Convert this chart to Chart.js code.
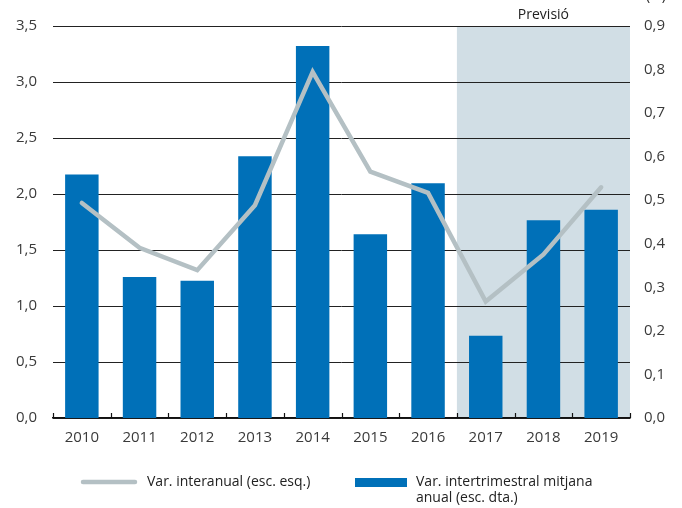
<!DOCTYPE html>
<html lang="ca">
<head>
    <meta charset="UTF-8">
    <title>Previsió</title>
    <script src="https://cdn.jsdelivr.net/npm/chart.js@4.4.1/dist/chart.umd.min.js"></script>
    <style>
        body {
            margin: 0;
            background: white;
        }
        .wrap {
            width: 682px;
            height: 508px;
            position: relative;
        }
    </style>
</head>
<body>
    <div class="wrap">
        <canvas id="myChart" width="682" height="508"></canvas>
    </div>

<script>
const years = ["2010", "2011", "2012", "2013", "2014", "2015", "2016", "2017", "2018", "2019"];
// var. interanual, left axis
const interanual = [1.92, 1.52, 1.32, 1.90, 3.09, 2.20, 2.01, 1.04, 1.46, 2.06];
// var. intertrimestral mitjana anual, right axis
const intertrimestral = [0.559, 0.324, 0.315, 0.601, 0.854, 0.422, 0.539, 0.189, 0.454, 0.478];
const forecastFrom = "2017";

const FONT = "'Open Sans', sans-serif";
const TXT = "#3a3a3a";

// shaded forecast area + labels, drawn before gridlines
const forecastPlugin = {
  id: "forecast",
  beforeDraw(chart) {
    const ctx = chart.ctx;
    const x = chart.scales.x;
    const area = chart.chartArea;
    const i = years.indexOf(forecastFrom);
    const step = x.getPixelForValue(1) - x.getPixelForValue(0);
    const left = x.getPixelForValue(i) - step / 2;
    ctx.save();
    ctx.fillStyle = "#d1dee5";
    ctx.fillRect(left, area.top, area.right - left, area.bottom - area.top);
    ctx.fillStyle = "#222";
    ctx.font = "14px " + FONT;
    ctx.textAlign = "center";
    ctx.textBaseline = "alphabetic";
    ctx.fillText("Previsió", (left + area.right) / 2, 19);
    ctx.fillText("(%)", 656, 0);
    ctx.restore();
  },
  afterDraw(chart) {
    const ctx = chart.ctx;
    const x = chart.scales.x;
    const area = chart.chartArea;
    const step = x.getPixelForValue(1) - x.getPixelForValue(0);
    ctx.save();
    // small ticks between categories
    ctx.strokeStyle = "#111";
    ctx.lineWidth = 1.2;
    for (let k = 0; k <= years.length; k++) {
      const px = Math.round(x.getPixelForValue(0) - step / 2 + k * step) + 0.5;
      ctx.beginPath();
      ctx.moveTo(px, area.bottom);
      ctx.lineTo(px, area.bottom - 5);
      ctx.stroke();
    }
    // legend
    ctx.strokeStyle = "#b4c0c4";
    ctx.lineWidth = 4.5;
    ctx.lineCap = "round";
    ctx.beginPath();
    ctx.moveTo(83, 482);
    ctx.lineTo(135, 482);
    ctx.stroke();
    ctx.fillStyle = "#0070b8";
    ctx.fillRect(355, 478, 52, 9);
    ctx.fillStyle = "#222";
    ctx.font = "14px " + FONT;
    ctx.textAlign = "left";
    ctx.textBaseline = "middle";
    ctx.fillText("Var. interanual (esc. esq.)", 147, 482);
    ctx.fillText("Var. intertrimestral mitjana", 416, 482);
    ctx.fillText("anual (esc. dta.)", 416, 498);
    ctx.restore();
  }
};

new Chart("myChart", {
  type: "bar",
  data: {
    labels: years,
    datasets: [{
      type: "line",
      data: interanual,
      yAxisID: "y",
      borderColor: "#b4c0c4",
      borderWidth: 4.5,
      borderCapStyle: "round",
      borderJoinStyle: "miter",
      pointRadius: 0,
      tension: 0,
      fill: false,
      order: 0
    }, {
      type: "bar",
      data: intertrimestral,
      yAxisID: "y2",
      backgroundColor: "#0070b8",
      borderWidth: 0,
      categoryPercentage: 1,
      barPercentage: 0.58,
      order: 1
    }]
  },
  plugins: [forecastPlugin],
  options: {
    responsive: false,
    animation: false,
    layout: { padding: { top: 26, bottom: 60, left: 0, right: 0 } },
    plugins: {
      legend: { display: false },
      tooltip: { enabled: false }
    },
    scales: {
      x: {
        grid: { display: false, drawTicks: false },
        border: { display: true, color: "#111", width: 1.5 },
        ticks: { color: TXT, font: { family: FONT, size: 15 }, padding: 11, maxRotation: 0 },
        afterFit(s) { s.height = 30; }
      },
      y: {
        position: "left",
        min: 0,
        max: 3.5,
        grid: { color: "#222", lineWidth: 1, drawTicks: false },
        border: { display: false },
        ticks: {
          stepSize: 0.5,
          color: TXT,
          padding: 16,
          font: { family: FONT, size: 15 },
          callback: v => v.toFixed(1).replace(".", ",")
        },
        afterFit(s) { s.width = 53; }
      },
      y2: {
        position: "right",
        min: 0,
        max: 0.9,
        grid: { display: false, drawTicks: false },
        border: { display: false },
        ticks: {
          stepSize: 0.1,
          color: TXT,
          padding: 14,
          font: { family: FONT, size: 15 },
          callback: v => v.toFixed(1).replace(".", ",")
        },
        afterFit(s) { s.width = 52; }
      }
    }
  }
});
</script>
</body>
</html>
